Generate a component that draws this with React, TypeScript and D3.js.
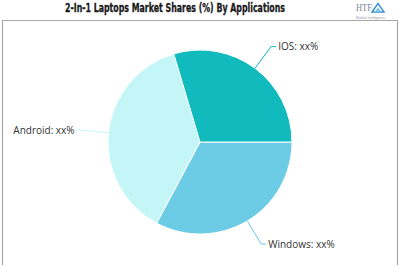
import React from "react";
import * as d3 from "d3";

const categories = ["Windows", "Android", "IOS"];
const shares = [32.8, 37.6, 29.6];
const labels = ["Windows: xx%", "Android: xx%", "IOS: xx%"];
const colors = ["#6ccce6", "#c4f6f8", "#10babd"];
const title = "2-In-1 Laptops Market Shares (%) By Applications";

const W = 400;
const H = 267;
const cx = 200;
const cy = 142;
const R = 92;

export default function App() {
  const pie = d3
    .pie<number>()
    .sort(null)
    .startAngle(Math.PI / 2)
    .endAngle(Math.PI / 2 + 2 * Math.PI)(shares);
  const arc = d3.arc<d3.PieArcDatum<number>>().innerRadius(0).outerRadius(R);

  const labelPos = pie.map((p) => {
    const mid = (p.startAngle + p.endAngle) / 2;
    const ex = cx + R * Math.sin(mid);
    const ey = cy - R * Math.cos(mid);
    const right = Math.sin(mid) > 0;
    const d = 27;
    const bx = cx + (R + d) * Math.sin(mid);
    const by = cy - (R + d) * Math.cos(mid);
    return { mid, ex, ey, right, bx, by };
  });

  return (
    <svg width={W} height={H} style={{ position: "absolute", left: 0, top: 0 }}>
      <rect x={0} y={0} width={W} height={H} fill="#ffffff" />
      <path
        d={`M2.5,265 L2.5,20.5 L397.5,20.5 L397.5,265`}
        fill="none"
        stroke="#a8a8a8"
        strokeWidth={1.2}
      />
      <text
        x={65}
        y={12}
        textLength={220}
        lengthAdjust="spacingAndGlyphs"
        fontFamily="'Liberation Sans Narrow', 'DejaVu Sans Condensed', Arial, sans-serif"
        fontWeight="bold"
        fontSize={12.5}
        fill="#1a1a1a"
        stroke="#1a1a1a"
        strokeWidth={0.3}
      >
        {title}
      </text>
      {/* logo */}
      <g>
        <text x={356} y={10.5} fontFamily="'Liberation Serif', serif" fontSize={9.5} fill="#7a8a9a" textLength={16} lengthAdjust="spacingAndGlyphs">
          HTF
        </text>
        <path d="M372,12 L378,3.5 L384,12 Z" fill="none" stroke="#3a8fd0" strokeWidth={1.4} />
        <path d="M374.5,12 L378,7.5 L381.5,12 Z" fill="#7fc0e8" />
        <text x={356} y={18.8} fontFamily="Arial, sans-serif" fontSize={3} fill="#8a9aaa" textLength={29} lengthAdjust="spacingAndGlyphs">
          Market Intelligence
        </text>
      </g>
      <g transform={`translate(${cx},${cy})`}>
        {pie.map((p, i) => (
          <path key={categories[i]} d={arc(p) || ""} fill={colors[i]} stroke="#ffffff" strokeWidth={1} />
        ))}
      </g>
      {labelPos.map((l, k) => {
        const sgn = l.right ? 1 : -1;
        return (
          <g key={"l" + k}>
            <polyline
              points={`${l.ex},${l.ey} ${l.bx},${l.by} ${l.bx + sgn * 5},${l.by}`}
              fill="none"
              stroke={colors[k]}
              strokeWidth={1}
            />
            <text
              x={l.bx + sgn * 7}
              y={l.by}
              dy="0.35em"
              textAnchor={l.right ? "start" : "end"}
              fontFamily="'Open Sans', 'DejaVu Sans', sans-serif"
              fontSize={10}
              fill="#333"
            >
              {labels[k]}
            </text>
          </g>
        );
      })}
    </svg>
  );
}
